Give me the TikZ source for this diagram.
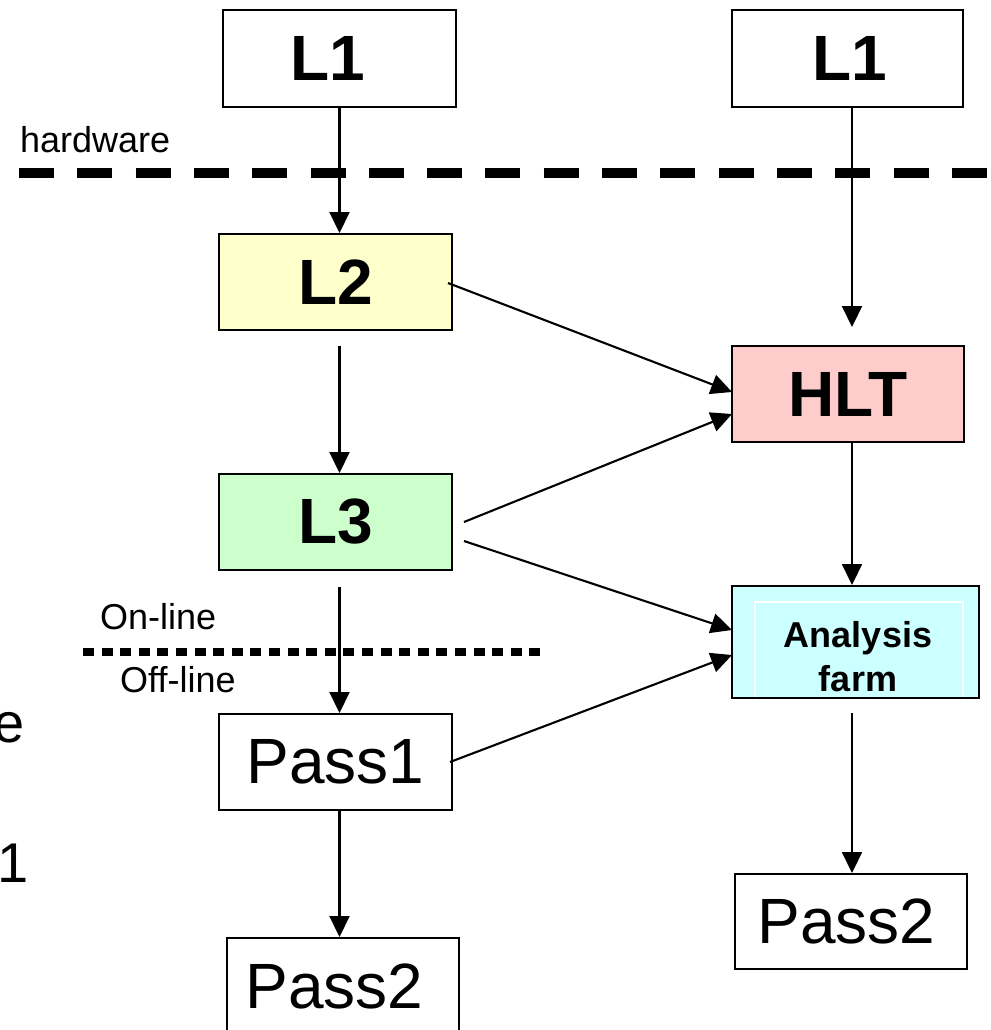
\documentclass[tikz,border=0pt]{standalone}
\usepackage{fontspec}
\setmainfont{Liberation Sans}
\usetikzlibrary{arrows.meta,calc}
\begin{document}
\begin{tikzpicture}[x=1pt,y=-1pt,
  box/.style={draw=black,line width=2pt,rectangle,inner sep=0pt,
    minimum width=233pt,minimum height=96pt,font=\fontsize{64}{72}\selectfont},
  bbox/.style={box,font=\fontsize{64}{72}\selectfont\bfseries},
  lbl/.style={inner sep=0pt,font=\fontsize{36}{40}\selectfont},
  edge/.style={inner sep=0pt,font=\fontsize{56}{60}\selectfont},
  arr/.style={line width=2.1pt,-{Triangle[length=21pt,width=20pt]}},
  sep/.style={line width=10pt,dash pattern=on 35pt off 23.3pt},
  dotsep/.style={line width=8pt,dash pattern=on 11pt off 7.6pt}
]
\useasboundingbox (0,0) rectangle (990,1030);
\clip (0,0) rectangle (990,1030);

% nodes
\node[bbox,minimum width=233pt,minimum height=97pt] (L1) at (339.5,58.5) {\hspace*{-23pt}L1};
\node[bbox,minimum width=231pt,minimum height=97pt] (L1r) at (847.5,58.5) {\hspace*{5pt}L1};
\node[bbox,fill={rgb,255:red,255;green,255;blue,204}] (L2) at (335.5,282) {L2};
\node[bbox,fill={rgb,255:red,204;green,255;blue,204}] (L3) at (335.5,522) {L3};
\node[bbox,minimum width=232pt,fill={rgb,255:red,255;green,204;blue,204}] (HLT) at (848,394) {HLT};
\node[box,minimum width=247pt,minimum height=112pt,fill={rgb,255:red,204;green,255;blue,255}] (AF) at (855.5,642) {};
\draw[white,line width=1.5pt] (755,697) -- (755,602) -- (963,602) -- (963,697);
\node[inner sep=0pt,align=center,font=\fontsize{36}{44}\selectfont\bfseries] (AFt) at (858,657.1) {Analysis\\farm};
\node[box] (P1) at (335.5,762) {Pass1};
\node[box,minimum width=232pt] (P2L) at (343,986) {\hspace*{-17pt}Pass2};
\node[box,minimum width=232pt,minimum height=95pt] (P2R) at (851,921.5) {\hspace*{-9pt}Pass2};

% labels
\node[lbl,anchor=base west] (hw) at (20,152) {hardware};
\node[lbl,anchor=base west] (on) at (100,629) {On-line};
\node[lbl,anchor=base west] (off) at (120,692) {Off-line};
\node[edge,anchor=base east] (ee) at (25,742) {e};
\node[edge,anchor=base west] (one) at (-3,882) {1};

% separators
\draw[sep] (19,172.5) -- (1000,172.5);
\draw[dotsep] (83,652) -- (541,652);

% column reference for right side
\coordinate (rc) at (852,0);

% left column connectors
\draw[arr] (L1.south) -- (L1.south |- L2.north);
\draw[arr] ($(L1.south |- L2.south)+(0,15)$) -- (L1.south |- L3.north);
\draw[arr] ($(L1.south |- L3.south)+(0,16)$) -- (L1.south |- P1.north);
\draw[arr] (L1.south |- P1.south) -- (L1.south |- P2L.north);

% right column connectors
\draw[arr] (rc |- L1r.south) -- ($(rc |- HLT.north)+(0,-18)$);
\draw[arr] (rc |- HLT.south) -- (rc |- AF.north);
\draw[arr] ($(rc |- AF.south)+(0,14)$) -- (rc |- P2R.north);

% diagonal connectors
\draw[arr] ($(L2.east)+(-5,1)$) -- ($(HLT.west)+(1,-2)$);
\draw[arr] ($(L3.east)+(11,0)$) -- ($(HLT.west)+(1,20)$);
\draw[arr] ($(L3.east)+(11,19)$) -- ($(AF.west)+(1,-12)$);
\draw[arr] ($(P1.east)+(-3,0)$) -- ($(AF.west)+(1,13)$);
\end{tikzpicture}
\end{document}
